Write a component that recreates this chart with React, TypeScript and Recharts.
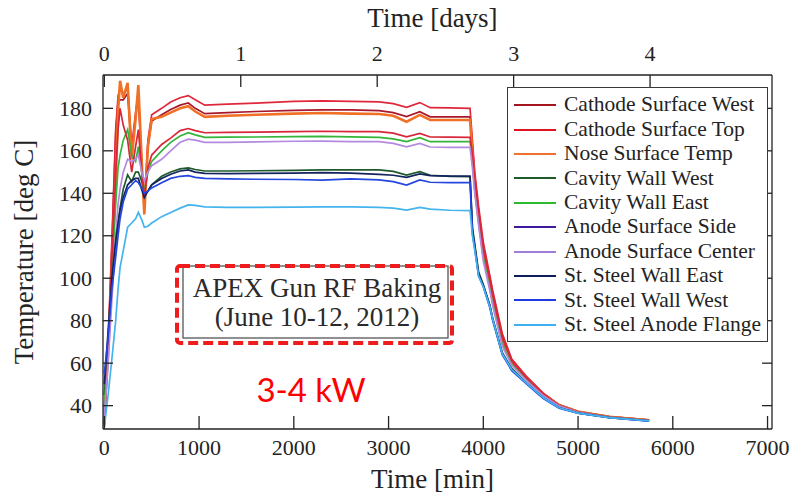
import { Legend, Line, LineChart, XAxis, YAxis } from "recharts";

// time axis of the log, minutes since start
const timeMin = [
  0, 40, 80, 120, 145, 166, 200, 246, 289, 330, 359, 400, 422, 460, 500,
  605, 700, 800, 886, 960, 1060, 1300, 1600, 2000, 2300, 2600, 2900, 3050, 3190, 3330, 3440, 3650, 3860,
  3885, 3910, 3950, 4000, 4070, 4100, 4200, 4300, 4450, 4630, 4800, 5000, 5330, 5750
];

const cathodeWest = [
  31, 68, 115, 168, 183, 184, 184, 187, 160, 176, 186, 148, 133, 162, 174,
  177, 179.5, 181.5, 182.5, 180, 177.5, 178, 178.5, 179, 179.3, 179.3, 178.9, 178, 176.1, 178.4, 176, 176, 176,
  162, 148, 132, 115, 100, 93, 73, 61.5, 53.7, 45.8, 40.3, 37.2, 34.8, 33.2
];
const cathodeTop = [
  32, 70, 118, 170, 186, 189, 186, 190, 162, 178, 188, 150, 135, 165, 177,
  180, 183, 185, 186, 184, 181.5, 182, 182.5, 183.3, 183.5, 183.3, 183, 182.2, 180.5, 182.7, 180.3, 180.2, 180,
  165, 150, 134, 117, 101, 94, 74, 62, 54, 46, 40.5, 37.3, 34.8, 33.3
];
const noseSurface = [
  35, 65, 105, 145, 178, 193, 185, 192, 156, 175, 191, 150, 130, 162, 175,
  176, 178, 180, 181, 178.5, 176, 176.5, 177, 177.5, 177.8, 177.5, 177.3, 176.5, 173.7, 176.9, 174.5, 174.5, 174.5,
  158, 143, 128, 111, 96, 89, 70, 60, 53, 45.3, 40.2, 37.1, 34.7, 33.1
];
const cavityWest = [
  45, 70, 95, 115, 125, 133, 142, 148.7, 145.5, 150, 150, 145, 139, 141, 144,
  148, 150, 151.5, 152, 151.2, 150.5, 150.5, 150.6, 150.8, 151, 151, 151, 150.3, 148.6, 150.2, 148.5, 148, 147.8,
  124, 116, 103, 97, 87, 81, 65, 57.5, 51, 44, 39.2, 36.6, 34.5, 32.9
];
const cavityEast = [
  38, 70, 105, 135, 152, 158, 165, 170, 158, 155, 162, 148, 140, 150, 155,
  160, 164, 167, 168.5, 167.5, 166.3, 166.4, 166.5, 166.7, 166.8, 166.6, 166.3, 165.6, 164.3, 166.2, 164.3, 164.3, 164.3,
  155, 142, 127, 110, 95, 88, 69, 59.5, 52.5, 45, 40, 37, 34.6, 33
];
const anodeSide = [
  30, 65, 110, 150, 170, 180, 172, 165, 150, 162, 170, 148, 138, 152, 158,
  163, 166, 169.5, 170.5, 169.5, 168.5, 168.7, 168.8, 169, 169.2, 169, 169, 168.3, 166.6, 168.2, 166.5, 166.4, 166.3,
  158, 146, 131, 114, 99, 92, 72, 61, 53.3, 45.5, 40.1, 37, 34.6, 33
];
const anodeCenter = [
  35, 60, 90, 120, 135, 142, 150, 156, 155, 156, 158, 149, 146, 150, 153,
  156, 160, 164, 165.5, 165, 164, 164, 164.2, 164.5, 164.6, 164.3, 164.3, 163.5, 161.9, 163.5, 161.8, 161.6, 161.6,
  152, 140, 125, 108, 94, 87, 68, 59, 52, 44.8, 39.8, 36.9, 34.5, 33
];
const steelEast = [
  50, 75, 100, 118, 126, 132, 138, 144, 146, 147, 147, 141, 138, 141, 144,
  147, 149, 150.5, 151, 150, 149.4, 149.3, 149.4, 149.5, 149.7, 149.5, 148.9, 148.5, 147.5, 149.1, 148.3, 148.1, 148.1,
  123, 115, 102, 96.5, 87, 80.5, 64.5, 57, 50.7, 43.7, 39, 36.5, 34.4, 32.8
];
const steelWest = [
  55, 72, 95, 110, 120, 128, 136, 142, 144, 146, 145, 142, 140, 141, 142.5,
  145, 147, 148, 148.3, 147.5, 147, 146.8, 146.6, 146.5, 146.2, 146.8, 146.3, 145.5, 143.9, 146.3, 145.2, 145, 145,
  121, 114, 101, 96, 86, 80, 64, 56.5, 50.5, 43.5, 38.8, 36.4, 34.4, 32.7
];
const anodeFlange = [
  30, 45, 62, 80, 95, 105, 113, 124, 126, 128, 131, 127, 124, 124.5, 126,
  129, 131, 133, 134.5, 134.3, 133.6, 133.4, 133.4, 133.5, 133.6, 133.6, 133.4, 133, 132.1, 133.4, 132.5, 132, 131.8,
  120, 113, 101, 96, 86.5, 80.5, 64.5, 57, 50.8, 43.8, 39, 36.5, 34.4, 32.8
];

const seriesNames = [
  "Cathode Surface West",
  "Cathode Surface Top",
  "Nose Surface Temp",
  "Cavity Wall West",
  "Cavity Wall East",
  "Anode Surface Side",
  "Anode Surface Center",
  "St. Steel Wall East",
  "St. Steel Wall West",
  "St. Steel Anode Flange"
];
const seriesValues = [
  cathodeWest, cathodeTop, noseSurface, cavityWest, cavityEast,
  anodeSide, anodeCenter, steelEast, steelWest, anodeFlange
];
// colours as the traces appear in the plot, and as the legend shows them
const lineColors = [
  "#a8182a", "#e0283c", "#f07026", "#1f5a2c", "#34b43a",
  "#d8263a", "#b48ae0", "#14245e", "#2446e0", "#44b4ee"
];
const legendColors = [
  "#a3161f", "#e0141e", "#f07030", "#1e5a2a", "#2db82d",
  "#3c1a9a", "#a07ed8", "#0e1e5a", "#1e3ce0", "#3cb0f0"
];

const minTicks = [0, 1000, 2000, 3000, 4000, 5000, 6000, 7000];
const dayTicks = [0, 1440, 2880, 4320, 5760];
const tempTicks = [40, 60, 80, 100, 120, 140, 160, 180];

const seriesKeys = seriesNames.map((_, i) => `s${i}`);
const data = timeMin.map((t, i) => {
  const row: Record<string, number> = { t };
  seriesKeys.forEach((k, j) => {
    row[k] = seriesValues[j][i];
  });
  return row;
});

const FONT = '"Liberation Serif", "Times New Roman", serif';
const INK = "#232323";
const X_DOMAIN: [number, number] = [-14, 7047];
const Y_DOMAIN: [number, number] = [29, 195.7];

function BottomTick({ x, y, payload }: any) {
  return (
    <g>
      <line x1={x} x2={x} y1={y} y2={y - 13} stroke={INK} strokeWidth={1.3} />
      <text x={x} y={y + 26} textAnchor="middle" fontFamily={FONT} fontSize={22} fill={INK}>
        {payload.value}
      </text>
    </g>
  );
}

function TopTick({ x, y, payload }: any) {
  return (
    <g>
      <line x1={x} x2={x} y1={y} y2={y + 12} stroke={INK} strokeWidth={1.3} />
      <text x={x} y={y - 14} textAnchor="middle" fontFamily={FONT} fontSize={22} fill={INK}>
        {Math.round(payload.value / 1440)}
      </text>
    </g>
  );
}

function LeftTick({ x, y, payload }: any) {
  return (
    <g>
      <line x1={x} x2={x + 10} y1={y} y2={y} stroke={INK} strokeWidth={1.3} />
      <text x={x - 11} y={y + 7.5} textAnchor="end" fontFamily={FONT} fontSize={22} fill={INK}>
        {payload.value}
      </text>
    </g>
  );
}

function RightTick({ x, y }: any) {
  return <line x1={x} x2={x - 10} y1={y} y2={y} stroke={INK} strokeWidth={1.3} />;
}

function LegendBox() {
  return (
    <div
      style={{
        boxSizing: "border-box",
        width: 261,
        height: 255,
        border: "1.5px solid #3a3a3a",
        background: "#fff",
        padding: "5px 0 0 6px"
      }}
    >
      {seriesNames.map((name, i) => (
        <div key={name} style={{ display: "flex", alignItems: "center", height: 24.4 }}>
          <svg width={42} height={6}>
            <line x1={0} x2={42} y1={3} y2={3} stroke={legendColors[i]} strokeWidth={2.2} />
          </svg>
          <span
            style={{
              marginLeft: 8,
              fontFamily: FONT,
              fontSize: 21.5,
              color: INK,
              lineHeight: 1,
              whiteSpace: "nowrap"
            }}
          >
            {name}
          </span>
        </div>
      ))}
    </div>
  );
}

export default function App() {
  return (
    <div style={{ position: "absolute", left: 0, top: 0, width: 794, height: 497, background: "#fff" }}>
      <LineChart width={794} height={497} data={data} margin={{ top: 0, right: 0, bottom: 0, left: 0 }}>
        <XAxis
          xAxisId="min"
          dataKey="t"
          type="number"
          domain={X_DOMAIN}
          allowDataOverflow
          ticks={minTicks}
          interval={0}
          height={68}
          tickSize={0}
          tickMargin={0}
          tick={<BottomTick />}
          axisLine={{ stroke: INK, strokeWidth: 1.3 }}
          label={{
            content: ({ viewBox }: any) => (
              <text
                x={viewBox.x + viewBox.width / 2 - 5}
                y={viewBox.y + 59}
                textAnchor="middle"
                fontFamily={FONT}
                fontSize={27}
                fill={INK}
              >
                Time [min]
              </text>
            )
          }}
        />
        <XAxis
          xAxisId="days"
          dataKey="t"
          orientation="top"
          type="number"
          domain={X_DOMAIN}
          allowDataOverflow
          ticks={dayTicks}
          interval={0}
          height={75}
          tickSize={0}
          tickMargin={0}
          tick={<TopTick />}
          axisLine={{ stroke: INK, strokeWidth: 1.3 }}
          label={{
            content: ({ viewBox }: any) => (
              <text
                x={viewBox.x + viewBox.width / 2 - 5}
                y={27}
                textAnchor="middle"
                fontFamily={FONT}
                fontSize={27}
                fill={INK}
              >
                Time [days]
              </text>
            )
          }}
        />
        <YAxis
          yAxisId="temp"
          type="number"
          domain={Y_DOMAIN}
          allowDataOverflow
          ticks={tempTicks}
          interval={0}
          width={103}
          tickSize={0}
          tickMargin={0}
          tick={<LeftTick />}
          axisLine={{ stroke: INK, strokeWidth: 1.3 }}
          label={{
            content: ({ viewBox }: any) => {
              const cx = 24;
              const cy = viewBox.y + viewBox.height / 2;
              return (
                <text
                  x={cx}
                  y={cy}
                  transform={`rotate(-90 ${cx} ${cy})`}
                  textAnchor="middle"
                  dominantBaseline="central"
                  fontFamily={FONT}
                  fontSize={27}
                  fill={INK}
                >
                  Temperature [deg C]
                </text>
              );
            }
          }}
        />
        <YAxis
          yAxisId="frame"
          orientation="right"
          type="number"
          domain={Y_DOMAIN}
          allowDataOverflow
          ticks={tempTicks}
          interval={0}
          width={22}
          tickSize={0}
          tickMargin={0}
          tick={<RightTick />}
          axisLine={{ stroke: INK, strokeWidth: 1.3 }}
        />
        <Legend
          layout="vertical"
          align="center"
          verticalAlign="middle"
          content={<LegendBox />}
          wrapperStyle={{ left: 507, top: 87, width: 261, height: 255 }}
        />
        {/* invisible trace that ties the top (days) and right frame axes to the same data */}
        <Line
          xAxisId="days"
          yAxisId="frame"
          dataKey={seriesKeys[0]}
          stroke="none"
          legendType="none"
          dot={false}
          activeDot={false}
          isAnimationActive={false}
        />
        {seriesKeys.map((k, i) => (
          <Line
            key={k}
            xAxisId="min"
            yAxisId="temp"
            dataKey={k}
            name={seriesNames[i]}
            type="linear"
            stroke={lineColors[i]}
            strokeWidth={i === 2 ? 2.6 : 1.7}
            dot={false}
            isAnimationActive={false}
          />
        ))}
      </LineChart>
      <svg
        width={794}
        height={497}
        style={{ position: "absolute", left: 0, top: 0, pointerEvents: "none" }}
      >
        <rect x={183} y={266} width={265} height={72} fill="#fff" stroke="#555" strokeWidth={1.3} />
        <rect
          x={177}
          y={266}
          width={275}
          height={77}
          rx={3}
          fill="none"
          stroke="#ee1c1c"
          strokeWidth={4}
          strokeDasharray="10 5"
        />
        <text x={317} y={297} textAnchor="middle" fontFamily={FONT} fontSize={27} fill="#2a2a2a">
          APEX Gun RF Baking
        </text>
        <text x={317} y={326} textAnchor="middle" fontFamily={FONT} fontSize={27} fill="#2a2a2a">
          (June 10-12, 2012)
        </text>
        <text x={311} y={402} textAnchor="middle" fontFamily="Lato, sans-serif" fontSize={33} fill="#ff0000">
          3-4 kW
        </text>
      </svg>
    </div>
  );
}
